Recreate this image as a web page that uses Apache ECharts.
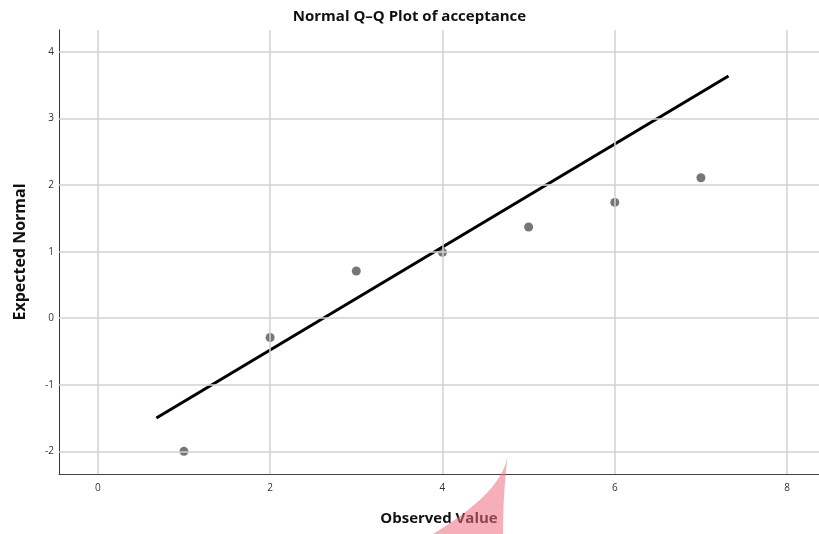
<!DOCTYPE html>
<html>
<head>
<meta charset="utf-8">
<script src="https://cdn.jsdelivr.net/npm/echarts@6/dist/echarts.min.js"></script>
<style>html,body{margin:0;padding:0;background:#fff}#c{width:819px;height:534px}</style>
</head>
<body>
<div id="c"></div>
<script>
const observed = [1, 2, 3, 4, 5, 6, 7];
const expectedNormal = [-2.00, -0.29, 0.71, 0.99, 1.37, 1.74, 2.11];
const refLineX = [0.68, 7.32];
const refLineY = [-1.50, 3.64];
const xTicks = [0, 2, 4, 6, 8];
const yTicks = [-2, -1, 0, 1, 2, 3, 4];

function bez(p0, p1, p2, p3, n) {
  const pts = [];
  for (let i = 0; i <= n; i++) {
    const t = i / n, u = 1 - t;
    pts.push([
      u*u*u*p0[0] + 3*u*u*t*p1[0] + 3*u*t*t*p2[0] + t*t*t*p3[0],
      u*u*u*p0[1] + 3*u*u*t*p1[1] + 3*u*t*t*p2[1] + t*t*t*p3[1]
    ]);
  }
  return pts;
}
const shadowPts = bez([508,453],[505,480],[480,505],[433,534],24)
  .concat(bez([503,534],[503,505],[505,475],[508,453],12));

const chart = echarts.init(document.getElementById('c'));
const font = '"Open Sans", "DejaVu Sans", sans-serif';
chart.setOption({
  animation: false,
  title: {
    text: 'Normal Q\u2013Q Plot of acceptance',
    left: 'center', top: 4,
    textStyle: { fontFamily: font, fontWeight: 'bold', fontSize: 15, color: '#111' }
  },
  grid: { left: 59, top: 30, right: 0, bottom: 60, containLabel: false, outerBoundsMode: 'none' },
  xAxis: {
    type: 'value', min: -0.45, max: 8.37,
    name: 'Observed Value', nameLocation: 'middle', nameGap: 37,
    nameTextStyle: { fontFamily: font, fontWeight: 'bold', fontSize: 15, color: '#111' },
    axisLine: { show: true, onZero: false, lineStyle: { color: '#444', width: 1 } },
    axisTick: { show: false },
    axisLabel: { customValues: xTicks, fontFamily: font, fontSize: 10, color: '#333', margin: 9 },
    splitLine: { show: false }
  },
  yAxis: {
    type: 'value', min: -2.34, max: 4.33,
    name: 'Expected Normal', nameLocation: 'middle', nameGap: 31, nameRotate: 90,
    nameTextStyle: { fontFamily: font, fontWeight: 'bold', fontSize: 16, color: '#111' },
    axisLine: { show: true, onZero: false, lineStyle: { color: '#333', width: 1 } },
    axisTick: { show: false },
    axisLabel: { customValues: yTicks, fontFamily: font, fontSize: 10, color: '#333', margin: 5 },
    splitLine: { show: false }
  },
  series: [
    {
      type: 'scatter', data: observed.map((x, i) => [x, expectedNormal[i]]),
      symbolSize: 9, itemStyle: { color: '#767676', opacity: 1 }, z: 3,
      markLine: {
        silent: true, symbol: 'none', label: { show: false },
        lineStyle: { color: '#d2d2d2', width: 1.5, type: 'solid' },
        data: xTicks.map(v => ({ xAxis: v })).concat(yTicks.map(v => ({ yAxis: v })))
      }
    },
    {
      type: 'line', data: refLineX.map((x, i) => [x, refLineY[i]]),
      symbol: 'none', lineStyle: { color: '#000', width: 3 }, z: 4
    }
  ],
  graphic: [{
    type: 'polygon', z: 100,
    shape: { points: shadowPts },
    style: { fill: 'rgba(238,110,125,0.55)' }
  }]
});
</script>
</body>
</html>
